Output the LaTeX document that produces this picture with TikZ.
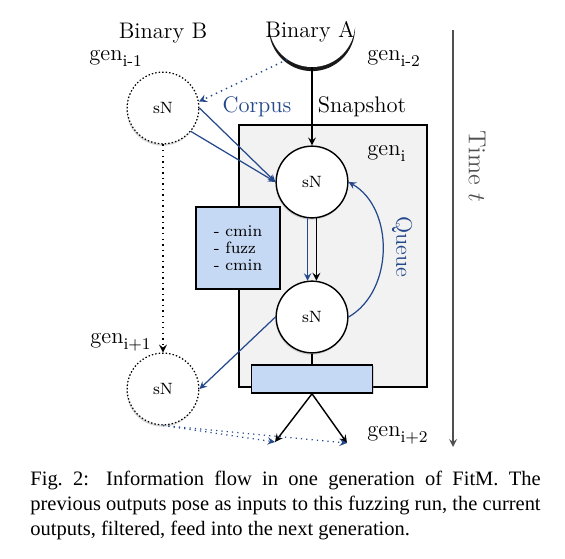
\documentclass[tikz,border=0pt]{standalone}
\usepackage{fontspec}
\newfontfamily\captionfont{Liberation Serif}
\usetikzlibrary{shadows}

\definecolor{flowblue}{RGB}{36,72,140}
\definecolor{boxblue}{RGB}{198,217,244}
\definecolor{genbg}{RGB}{242,242,242}
\definecolor{timegray}{RGB}{80,80,80}

% generation label with a low subscript
\newcommand{\gensub}[1]{gen\raisebox{-3.4pt}{\fontsize{8}{9}\selectfont #1}}

\tikzset{
    sn/.style={circle, draw, line width=0.7pt, fill=white, minimum size=35pt, inner sep=0pt,
        font=\fontsize{8}{9}\selectfont,
        drop shadow={opacity=0.3, shadow xshift=-0.3pt, shadow yshift=-0.9pt}},
    sn old/.style={sn, densely dotted, line width=0.6pt},
    bluebox/.style={draw, line width=0.7pt, fill=boxblue, inner sep=0pt,
        drop shadow={opacity=0.3, shadow xshift=0.6pt, shadow yshift=-0.6pt}},
    flow/.style={->, flowblue, line width=0.6pt},
    genlabel/.style={anchor=base west, inner sep=0pt}
}

\begin{document}
\begin{tikzpicture}[x=0.488pt, y=-0.488pt, >=stealth, font=\fontsize{11}{13}\selectfont]
    \useasboundingbox (0,0) rectangle (565,558);

    % Binary A, cut off at the top
    \begin{scope}
        \clip (0,0) rectangle (565,558);
        \node[circle, fill=white, minimum size=42pt,
            drop shadow={fill=black, opacity=0.9, shadow xshift=0pt, shadow yshift=-2pt}] (binA) at (312,24) {};
    \end{scope}
    \node (binAtxt) at (310,32) {Binary A};
    \node (binBtxt) at (163,33) {Binary B};

    % the generation box
    \draw[line width=0.7pt, fill=genbg] (239,125) rectangle (427,387);

    % snapshot nodes
    \node[sn old] (sNold) at (163,108) {sN};
    \node[sn] (sNin) at (312,182) {sN};
    \node[sn] (sNout) at (312,317) {sN};
    \node[sn old] (sNnext) at (163,389) {sN};

    % fuzzing steps and filter
    \node[bluebox, minimum width=41pt, minimum height=40pt, align=left, font=\fontsize{8}{8.3}\selectfont] (tasks) at (238,248) {- cmin\\- fuzz\\- cmin};
    \node[bluebox, minimum width=59pt, minimum height=13.7pt] (filter) at (312,379) {};
    \draw[line width=0.7pt] (sNout.south) -- (filter.north);

    % outputs of the next generation
    \coordinate (out1) at (275,442);
    \coordinate (out2) at (347,443);

    % generation labels
    \node[genlabel] (genA) at (89,60) {\gensub{i-1}};
    \node[genlabel] (genB) at (367,60) {\gensub{i-2}};
    \node[genlabel] (genC) at (367,155) {\gensub{i}};
    \node[genlabel] (genD) at (90,343) {\gensub{i+1}};
    \node[genlabel] (genE) at (367,436) {\gensub{i+2}};

    % inputs
    \draw[->, line width=0.7pt] (binA.south) -- (sNin.north);
    \node (snap) at (362,107) {Snapshot};
    \draw[->, flowblue, dotted, line width=0.7pt] (binA.-125) -- (sNold.10);
    \node[flowblue] (corpus) at (257,107) {Corpus};
    \draw[flow] (sNold.east) -- (sNin.west);
    \draw[flow] (sNold.-40) -- (sNin.west);

    % the fuzzing run
    \draw[flow] (sNin.-97) -- (sNout.97);
    \draw[->, line width=0.7pt] (sNin.-83) -- (sNout.83);
    \draw[flow] (sNout.east) to[out=30, in=-30] (sNin.east);
    \node[flowblue, rotate=-90] (queue) at (402,247) {Queue};

    % outputs
    \draw[flow] (sNout.west) -- (sNnext.east);
    \draw[->, dotted, line width=0.7pt] (sNold.south) -- (sNnext.north);
    \draw[->, line width=0.7pt] (filter.south) -- (out1);
    \draw[->, line width=0.7pt] (filter.south) -- (out2);
    \draw[flow, dotted] (sNnext.south) -- (out1);
    \draw[flow, dotted] (sNnext.south) -- (out2);

    % time axis
    \coordinate (tstart) at (453,30);
    \coordinate (tend) at (453,447);
    \draw[->, timegray, line width=0.7pt] (tstart) -- (tend);
    \node[timegray, rotate=-90, font=\fontsize{12}{14}\selectfont] (time) at (477,166) {Time $t$};

    % caption
    \node[anchor=north west, inner sep=0pt, text width=249pt, align=justify, font=\captionfont\fontsize{10}{12}\selectfont] (caption) at (30,471) {Fig.~2: Information flow in one generation of FitM. The\linebreak previous outputs pose as inputs to this fuzzing run, the current\linebreak outputs, filtered, feed into the next generation.};
\end{tikzpicture}
\end{document}
